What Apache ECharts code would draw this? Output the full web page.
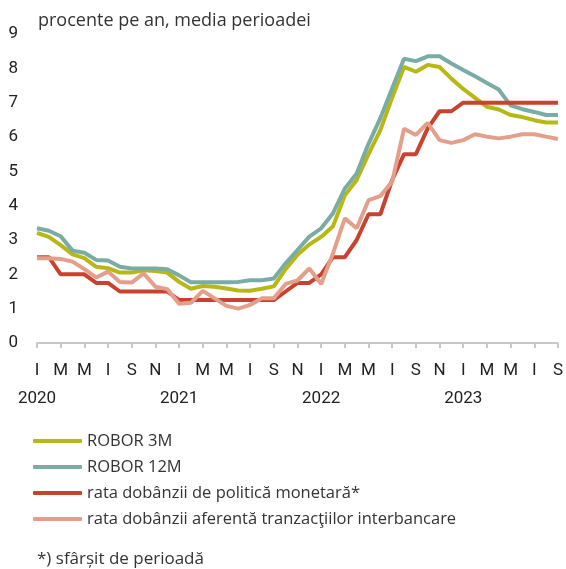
<!DOCTYPE html>
<html>
<head>
<meta charset="utf-8">
<script src="https://cdn.jsdelivr.net/npm/echarts@6/dist/echarts.min.js"></script>
<style>
  html, body { margin: 0; padding: 0; background: #fff; }
  #chart { width: 566px; height: 569px; }
</style>
</head>
<body>
<div id="chart"></div>
<script>
// luni ian 2020 - sep 2023
var monthInitials = ['I', 'F', 'M', 'A', 'M', 'I', 'I', 'A', 'S', 'O', 'N', 'D']
var years = ['2020', '2021', '2022', '2023']
var monthCount = 45

var robor3m = [3.21, 3.09, 2.85, 2.58, 2.47, 2.22, 2.18, 2.05, 2.05, 2.12, 2.10, 2.05,
  1.78, 1.58, 1.66, 1.64, 1.59, 1.53, 1.52, 1.58, 1.65, 2.15, 2.57, 2.87,
  3.09, 3.40, 4.30, 4.75, 5.50, 6.20, 7.15, 8.04, 7.90, 8.10, 8.04, 7.70,
  7.40, 7.14, 6.88, 6.80, 6.64, 6.58, 6.49, 6.42, 6.42]
var robor12m = [3.34, 3.27, 3.11, 2.69, 2.63, 2.42, 2.40, 2.22, 2.17, 2.17, 2.17, 2.15,
  1.97, 1.77, 1.77, 1.77, 1.77, 1.78, 1.83, 1.83, 1.88, 2.32, 2.71, 3.10,
  3.34, 3.78, 4.50, 4.94, 5.80, 6.55, 7.42, 8.28, 8.21, 8.35, 8.35, 8.14,
  7.95, 7.77, 7.57, 7.38, 6.92, 6.81, 6.73, 6.64, 6.64]
var ratePolitica = [2.5, 2.5, 2.0, 2.0, 2.0, 1.75, 1.75, 1.5, 1.5, 1.5, 1.5, 1.5,
  1.25, 1.25, 1.25, 1.25, 1.25, 1.25, 1.25, 1.25, 1.25, 1.5, 1.75, 1.75,
  2.0, 2.5, 2.5, 3.0, 3.75, 3.75, 4.75, 5.5, 5.5, 6.25, 6.75, 6.75,
  7.0, 7.0, 7.0, 7.0, 7.0, 7.0, 7.0, 7.0, 7.0]
var rataInterbancara = [2.47, 2.47, 2.45, 2.37, 2.15, 1.91, 2.08, 1.78, 1.76, 2.03, 1.64, 1.57,
  1.14, 1.17, 1.52, 1.30, 1.08, 1.00, 1.11, 1.30, 1.30, 1.72, 1.82, 2.17,
  1.72, 2.61, 3.63, 3.34, 4.16, 4.28, 4.70, 6.24, 6.06, 6.41, 5.91, 5.83,
  5.91, 6.08, 6.01, 5.96, 6.01, 6.08, 6.08, 6.01, 5.94]

var seriesNames = ['ROBOR 3M', 'ROBOR 12M', 'rata dobânzii de politică monetară*', 'rata dobânzii aferentă tranzacţiilor interbancare']
var colors = ['#b7b816', '#79aca5', '#c8422f', '#e49f8b']

var monthLabels = []
var yearLabels = []
for (var i = 0; i < monthCount; i++) {
  monthLabels.push(monthInitials[i % 12])
  yearLabels.push(i % 12 === 0 ? years[i / 12] : '')
}

var fontCond = 'Roboto, "Open Sans", sans-serif'
var fontText = '"Open Sans", "Noto Sans", sans-serif'

var chart = echarts.init(document.getElementById('chart'))

function lineSeries(idx, data) {
  return {
    name: seriesNames[idx],
    type: 'line',
    data: data,
    showSymbol: false,
    symbol: 'none',
    lineStyle: { color: colors[idx], width: 4 },
    itemStyle: { color: colors[idx] }
  }
}

chart.setOption({
  backgroundColor: '#fff',
  animation: false,
  color: colors,
  title: {
    text: 'procente pe an, media perioadei',
    left: 33,
    top: 7,
    textStyle: { fontFamily: fontText, fontSize: 18, fontWeight: 'normal', color: '#333' }
  },
  grid: {
    left: 37,
    right: 6,
    top: 34,
    bottom: 226,
    containLabel: false
  },
  xAxis: [{
    type: 'category',
    boundaryGap: false,
    data: monthLabels,
    axisLine: { lineStyle: { color: '#c8c8c8', width: 2 } },
    axisTick: { interval: 1, length: 5, lineStyle: { color: '#c8c8c8', width: 2 } },
    splitLine: { show: false },
    axisLabel: {
      interval: 1,
      margin: 19,
      showMinLabel: true,
      showMaxLabel: true,
      fontFamily: fontCond,
      fontSize: 17,
      color: '#222'
    }
  }, {
    // anii, sub luna ianuarie
    type: 'category',
    position: 'bottom',
    offset: 29,
    boundaryGap: false,
    data: yearLabels,
    axisLine: { show: false },
    axisTick: { show: false },
    splitLine: { show: false },
    axisLabel: {
      interval: 0,
      margin: 18,
      showMinLabel: true,
      fontFamily: fontCond,
      fontSize: 17,
      color: '#222'
    }
  }],
  yAxis: {
    type: 'value',
    min: 0,
    max: 9,
    interval: 1,
    axisLine: { show: false },
    axisTick: { show: false },
    splitLine: { show: false },
    axisLabel: { margin: 19, fontFamily: fontCond, fontSize: 17, color: '#222' }
  },
  legend: {
    orient: 'vertical',
    left: 33,
    top: 431,
    padding: 0,
    icon: 'roundRect',
    itemWidth: 49,
    itemHeight: 4,
    itemGap: 6,
    textStyle: { fontFamily: fontText, fontSize: 16.5, color: '#333', lineHeight: 20 },
    data: seriesNames
  },
  graphic: [{
    type: 'text',
    left: 37,
    top: 551,
    style: { text: '*) sfârșit de perioadă', fontFamily: fontText, fontSize: 17, fill: '#333' }
  }],
  series: [
    lineSeries(0, robor3m),
    lineSeries(1, robor12m),
    lineSeries(2, ratePolitica),
    lineSeries(3, rataInterbancara)
  ]
})
</script>
</body>
</html>
